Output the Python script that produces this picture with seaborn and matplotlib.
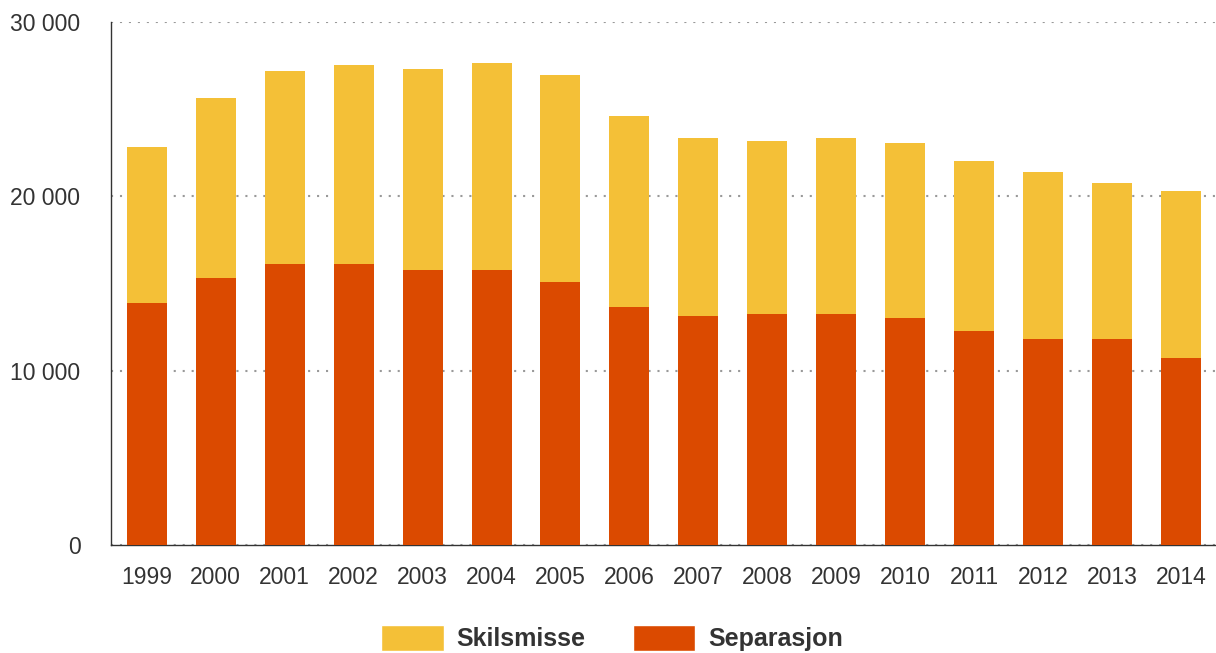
import matplotlib
matplotlib.use("Agg")
import matplotlib.pyplot as plt
import matplotlib.ticker as mticker
from matplotlib.patches import Patch
import seaborn as sns
import pandas as pd

years = [str(y) for y in range(1999, 2015)]
separasjon = [13900, 15300, 16100, 16100, 15800, 15800, 15100, 13650,
              13150, 13250, 13250, 13000, 12300, 11800, 11800, 10750]
skilsmisse = [8930, 10350, 11100, 11450, 11500, 11850, 11850, 10950,
              10200, 9950, 10100, 10050, 9700, 9600, 8950, 9550]
totals = [a + b for a, b in zip(separasjon, skilsmisse)]

YELLOW = "#F4C037"
ORANGE = "#DB4A00"
TXT = "#333333"

sns.set_theme(style="white")
plt.rcParams['font.family'] = ['Liberation Sans', 'DejaVu Sans']

df = pd.DataFrame({"year": years, "total": totals, "sep": separasjon})

fig = plt.figure(figsize=(12.16, 6.53), dpi=100)
ax = fig.add_axes([111/1216, 108/653, 1 - 111/1216, (545-22)/653])

sns.barplot(data=df, x="year", y="total", color=YELLOW, width=0.58,
            saturation=1, ax=ax, zorder=3, linewidth=0, edgecolor="none")
sns.barplot(data=df, x="year", y="sep", color=ORANGE, width=0.58,
            saturation=1, ax=ax, zorder=3, linewidth=0, edgecolor="none")

ax.set_ylim(0, 30000)
ax.set_xlim(-0.52, 15.51)
ax.yaxis.set_major_locator(mticker.MultipleLocator(10000))
ax.yaxis.set_major_formatter(mticker.FuncFormatter(
    lambda v, p: f"{int(v):,}".replace(",", " ")))
ax.grid(axis="y", color="#999999", linestyle=(0, (1, 3.3)), linewidth=1.5, zorder=0)
ax.set_axisbelow(True)
ax.set_xlabel("")
ax.set_ylabel("")
for s in ["top", "right"]:
    ax.spines[s].set_visible(False)
ax.spines["left"].set_color("#333333")
ax.spines["bottom"].set_color("#333333")
ax.spines["left"].set_linewidth(1.0)
ax.spines["bottom"].set_linewidth(1.0)
ax.tick_params(axis="y", length=0, pad=22, labelsize=16.5, labelcolor=TXT)
ax.tick_params(axis="x", length=0, pad=15, labelsize=16.5, labelcolor=TXT)

handles = [Patch(facecolor=YELLOW, label="Skilsmisse"),
           Patch(facecolor=ORANGE, label="Separasjon")]
leg = fig.legend(handles=handles, loc="center", bbox_to_anchor=(612/1216, 1 - 638/653),
                 ncol=2, frameon=False, handlelength=2.5, handleheight=1.2,
                 handletextpad=0.5, columnspacing=1.9,
                 prop={"size": 18, "weight": "bold"})
for t in leg.get_texts():
    t.set_color(TXT)

fig.savefig("out.png", dpi=100)
